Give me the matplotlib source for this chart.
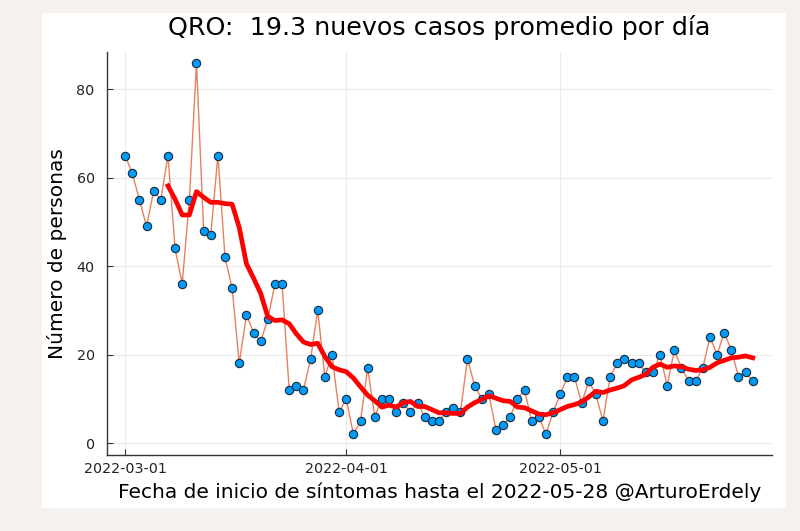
import pandas as pd
import matplotlib.pyplot as plt
import matplotlib.dates as mdates
from matplotlib.patches import Rectangle

plt.rcParams['font.family'] = ['DejaVu Sans']

# --- daily new cases, 2022-03-01 .. 2022-05-28 ---
start_date = "2022-03-01"
cases = [
    65, 61, 55, 49, 57, 55, 65, 44, 36, 55,
    86, 48, 47, 65, 42, 35, 18, 29, 25, 23,
    28, 36, 36, 12, 13, 12, 19, 30, 15, 20,
    7, 10, 2, 5, 17, 6, 10, 10, 7, 9,
    7, 9, 6, 5, 5, 7, 8, 7, 19, 13,
    10, 11, 3, 4, 6, 10, 12, 5, 6, 2,
    7, 11, 15, 15, 9, 14, 11, 5, 15, 18,
    19, 18, 18, 16, 16, 20, 13, 21, 17, 14,
    14, 17, 24, 20, 25, 21, 15, 16, 14,
]
tick_dates = ["2022-03-01", "2022-04-01", "2022-05-01"]
title = "QRO:  19.3 nuevos casos promedio por día"
xlabel = "Fecha de inicio de síntomas hasta el 2022-05-28 @ArturoErdely"
ylabel = "Número de personas"

df = pd.DataFrame({"fecha": pd.date_range(start_date, periods=len(cases)),
                   "casos": cases})
df["media7"] = df["casos"].rolling(7).mean()

fig = plt.figure(figsize=(8, 5.31), dpi=100, facecolor="#f5f1ee")
# white card behind the chart
card = Rectangle((42 / 800, 1 - 508 / 531), (786 - 42) / 800, (508 - 13) / 531,
                 transform=fig.transFigure, facecolor="white", edgecolor="none", zorder=-10)
fig.add_artist(card)
ax = fig.add_axes([0.134, 0.143, 0.831, 0.759])
ax.set_facecolor("white")

ax.plot(df["fecha"], df["casos"], color="#e8805e", linewidth=1.0, zorder=2)
ax.plot(df["fecha"], df["casos"], linestyle="none", marker="o", markersize=6,
        markerfacecolor="#009af9", markeredgecolor="#1a2a3a", markeredgewidth=0.8, zorder=3)
ax.plot(df["fecha"], df["media7"], color="red", linewidth=3.4, zorder=4)

ax.set_xlim(pd.Timestamp(start_date) - pd.Timedelta(days=2.52),
            pd.Timestamp(start_date) + pd.Timedelta(days=90.7))
ax.set_ylim(-2.7, 88.4)
ax.set_xticks(pd.to_datetime(tick_dates))
ax.xaxis.set_major_formatter(mdates.DateFormatter("%Y-%m-%d"))
ax.set_yticks([0, 20, 40, 60, 80])

ax.grid(True, color="#e6e6e6", linewidth=0.6)
ax.set_axisbelow(True)
for s in ["top", "right"]:
    ax.spines[s].set_visible(False)
for s in ["left", "bottom"]:
    ax.spines[s].set_color("#333333")
    ax.spines[s].set_linewidth(1.0)
ax.tick_params(direction="in", length=4, labelsize=10.3, colors="#333333", labelcolor="#222222")
ax.tick_params(axis="x", pad=5)
ax.tick_params(axis="y", pad=9)

ax.set_title(title, fontsize=18.3, pad=12)
ax.set_xlabel(xlabel, fontsize=14.5, labelpad=5)
ax.set_ylabel(ylabel, fontsize=14.5, labelpad=7)

fig.savefig("out.png", dpi=100, facecolor=fig.get_facecolor())
